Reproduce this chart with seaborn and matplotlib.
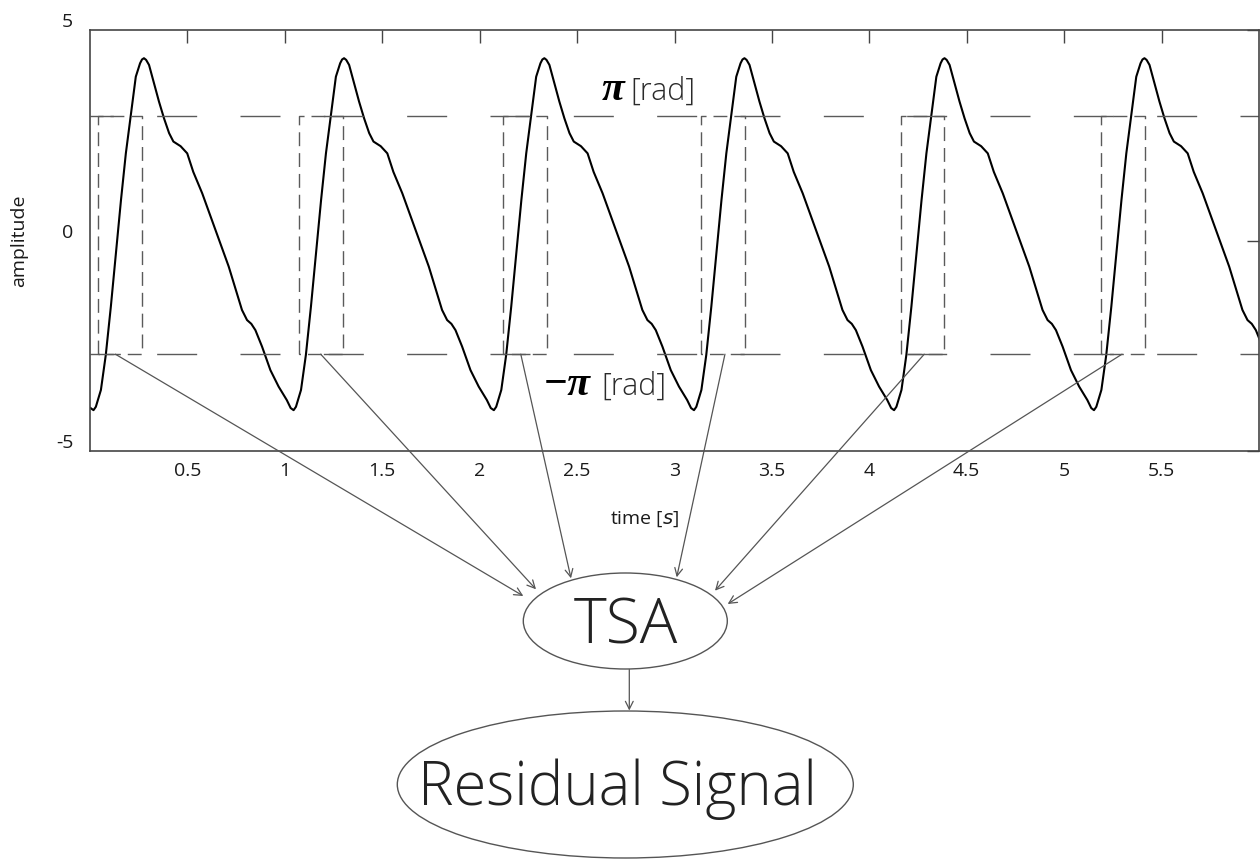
import numpy as np
import pandas as pd
import matplotlib
matplotlib.use("Agg")
import matplotlib.pyplot as plt
import matplotlib.transforms as mtransforms
from matplotlib.patches import Ellipse
import seaborn as sns

# ---------------- data ----------------
# one period of the waveform (time since the cycle minimum, amplitude)
CYCLE_DT = [0.000, 0.012, 0.038, 0.063, 0.089, 0.115, 0.141, 0.166, 0.191,
            0.217, 0.239, 0.249, 0.259, 0.270, 0.285, 0.311, 0.336, 0.362,
            0.388, 0.410, 0.430, 0.447, 0.481, 0.512, 0.558, 0.626, 0.694,
            0.762, 0.788, 0.810, 0.831, 0.865, 0.908, 0.950, 0.992, 1.012]
CYCLE_AMP = [-4.03, -3.95, -3.55, -2.72, -1.57, -0.30, 0.96, 2.07, 2.96,
             3.89, 4.21, 4.30, 4.33, 4.29, 4.17, 3.73, 3.30, 2.90,
             2.55, 2.35, 2.29, 2.24, 2.07, 1.63, 1.12, 0.25, -0.62,
             -1.65, -1.89, -1.98, -2.13, -2.52, -3.08, -3.47, -3.79, -3.98]
CYCLE_STARTS = [0.018, 1.045, 2.073, 3.100, 4.127, 5.153]   # times of minima
LEAD_T = [0.0]
LEAD_AMP = [-3.97]

UPPER_LEVEL = 2.96     # "pi [rad]" line
LOWER_LEVEL = -2.70    # "-pi [rad]" line
BOX_STARTS = [0.042, 1.072, 2.120, 3.138, 4.160, 5.190]
BOX_WIDTH = 0.225
ARROW_T = [0.130, 1.184, 2.211, 3.259, 4.282, 5.297]

X_TICKS = [0.5, 1, 1.5, 2, 2.5, 3, 3.5, 4, 4.5, 5, 5.5]
X_TICK_LABELS = ["0.5", "1", "1.5", "2", "2.5", "3", "3.5", "4", "4.5", "5", "5.5"]
Y_TICKS = [-5, 0, 5]
Y_TICK_LABELS = ["-5", "0", "5"]

# ---------------- build the series ----------------
t_all = list(LEAD_T)
a_all = list(LEAD_AMP)
for s in CYCLE_STARTS:
    t_all += [s + d for d in CYCLE_DT]
    a_all += CYCLE_AMP
df = pd.DataFrame({"time": t_all, "amplitude": a_all})

# ---------------- figure ----------------
sns.set_theme(style="white")
plt.rcParams["font.family"] = ["Open Sans", "DejaVu Sans"]
plt.rcParams["mathtext.fontset"] = "dejavusans"

W, H = 1260, 859
fig = plt.figure(figsize=(W / 100, H / 100), dpi=100)
fig.patch.set_facecolor("white")


def fx(px):
    return px / W


def fy(py):
    return 1 - py / H


ax = fig.add_axes([fx(90), fy(451), fx(1259) - fx(90), fy(30) - fy(451)])

sns.lineplot(data=df, x="time", y="amplitude", ax=ax, color="black",
             linewidth=1.5, sort=False, estimator=None)

ax.set_xlim(0, 6)
ax.set_ylim(-5, 5)

frame_col = "#454545"
ax.axhline(UPPER_LEVEL, color="#5a5a5a", lw=1.0, linestyle=(12, (28.8, 31.2)))
ax.axhline(LOWER_LEVEL, color="#5a5a5a", lw=1.0, linestyle=(12, (28.8, 31.2)))

for b in BOX_STARTS:
    xs = [b, b, b + BOX_WIDTH, b + BOX_WIDTH, b]
    ys = [LOWER_LEVEL, UPPER_LEVEL, UPPER_LEVEL, LOWER_LEVEL, LOWER_LEVEL]
    ax.plot(xs, ys, color="#5a5a5a", lw=1.0, linestyle=(0, (10, 5)))

ax.set_xticks(X_TICKS)
ax.set_xticklabels(X_TICK_LABELS)
ax.set_yticks(Y_TICKS)
ax.set_yticklabels(Y_TICK_LABELS)
ax.tick_params(axis="both", direction="in", length=9, width=1.0,
               color=frame_col, labelsize=14, labelcolor="#1a1a1a",
               top=True, right=True)
ax.tick_params(axis="x", pad=8)
ax.tick_params(axis="y", pad=12)
off = mtransforms.ScaledTranslation(0, 10 / 100, fig.dpi_scale_trans)
for lab in ax.get_yticklabels():
    lab.set_transform(lab.get_transform() + off)

for sp in ax.spines.values():
    sp.set_visible(True)
    sp.set_color(frame_col)
    sp.set_linewidth(1.2)

ax.set_xlabel("time [$\\it{s}$]", fontsize=14, color="#1a1a1a")
ax.set_ylabel("amplitude", fontsize=14, color="#1a1a1a")
ax.xaxis.set_label_coords((645 - 90) / 1169, -0.140)
ax.yaxis.set_label_coords((28 - 90) / 1169, 0.5)
ax.grid(False)

# pi labels
serif = ["Liberation Serif", "DejaVu Serif"]
fig.text(fx(602), fy(100), "\u03c0", family=serif, fontweight="bold",
         fontstyle="italic", fontsize=30, ha="left", va="baseline", color="#000000")
fig.text(fx(630), fy(100), "[rad]", fontsize=22, fontweight="light",
         ha="left", va="baseline", color="#2a2a2a")
fig.text(fx(543), fy(395), "\u2212\u03c0", family=serif, fontweight="bold",
         fontstyle="italic", fontsize=30, ha="left", va="baseline", color="#000000")
fig.text(fx(601), fy(395), "[rad]", fontsize=22, fontweight="light",
         ha="left", va="baseline", color="#2a2a2a")

# ellipses
tsa = Ellipse((fx(625.3), fy(621)), 204 / W, 96 / H, transform=fig.transFigure,
              fill=False, edgecolor="#555555", lw=1.0)
res = Ellipse((fx(625.3), fy(784.5)), 456 / W, 147 / H, transform=fig.transFigure,
              fill=False, edgecolor="#555555", lw=1.0)
fig.add_artist(tsa)
fig.add_artist(res)
fig.text(fx(626), fy(643), "TSA", fontsize=45, fontweight="light",
         ha="center", va="baseline", color="#222222")
fig.text(fx(617), fy(805), "Residual Signal", fontsize=43, fontweight="light",
         ha="center", va="baseline", color="#222222")

# arrows from the sampling windows to TSA
ARROW_END_PX = [(523.3, 596.0), (536.0, 589.3), (571.0, 578.3),
                (676.7, 577.3), (715.0, 590.7), (727.7, 604.0)]
for t, (ex, ey) in zip(ARROW_T, ARROW_END_PX):
    ax.annotate("", xy=(fx(ex), fy(ey)), xycoords="figure fraction",
                xytext=(t, LOWER_LEVEL), textcoords="data",
                arrowprops=dict(arrowstyle="->", color="#555555", lw=0.9,
                                shrinkA=0, shrinkB=0, mutation_scale=14),
                annotation_clip=False)

fig.add_artist(matplotlib.patches.FancyArrowPatch(
    (fx(629.3), fy(669.5)), (fx(629.3), fy(710.5)), transform=fig.transFigure,
    arrowstyle="->", color="#555555", lw=0.9, mutation_scale=14,
    shrinkA=0, shrinkB=0))

fig.savefig("out.png", dpi=100, facecolor="white")
